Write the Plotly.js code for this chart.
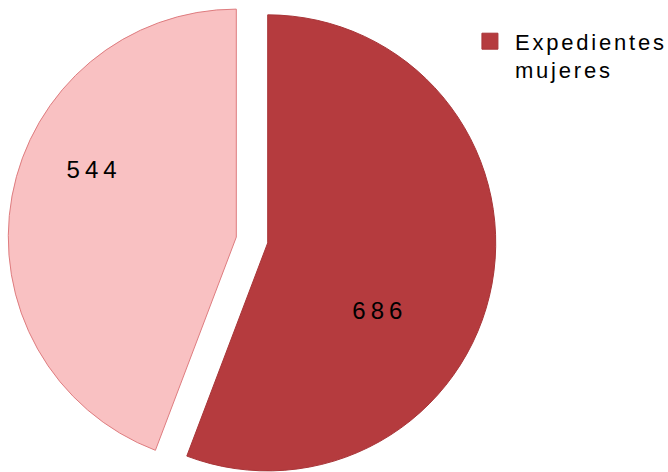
<!DOCTYPE html>
<html>
<head>
<meta charset="utf-8">
<script src="https://cdn.plot.ly/plotly-3.0.1.min.js"></script>
<style>
html, body { margin: 0; padding: 0; width: 668px; height: 472px; overflow: hidden; background: #fff; }
#chart { position: absolute; left: 0; top: -4px; width: 668px; height: 488px; }
.slicetext { letter-spacing: 5px; }
.spaced .legendtext { letter-spacing: 2.8px; }
</style>
</head>
<body>
<div id="chart"></div>
<script>
const labels = ["Expedientes mujeres", "Expedientes hombres"];
const values = [686, 544];
const sliceColors = ["#B53B3E", "#F9C1C2"];
const lineColors = ["#A83538", "#DE7C7F"];
const legendName = "Expedientes<br>mujeres";
const textTemplates = [
  "&nbsp;<br>&nbsp;<br>&nbsp;<br>%{value}",
  "%{value}&nbsp;&nbsp;&nbsp;&nbsp;&nbsp;<br>&nbsp;<br>&nbsp;<br>&nbsp;"
];

const data = [
  {
    type: "pie",
    labels: labels,
    values: values,
    sort: false,
    direction: "clockwise",
    rotation: 0,
    pull: [0.07, 0.07],
    texttemplate: textTemplates,
    textposition: "inside",
    insidetextorientation: "horizontal",
    textfont: { family: "Liberation Sans, Arial, sans-serif", size: 24, color: "#000000" },
    marker: { colors: sliceColors, line: { color: lineColors, width: 1 } },
    domain: { x: [0.012, 0.7425], y: [0, 1] },
    showlegend: false,
    hoverinfo: "label+value"
  },
  {
    type: "scatter",
    mode: "markers",
    x: [null],
    y: [null],
    name: legendName,
    marker: { symbol: "square", size: 16, color: sliceColors[0], line: { color: lineColors[0], width: 1 } },
    showlegend: true,
    hoverinfo: "skip"
  }
];

const layout = {
  width: 668,
  height: 488,
  margin: { l: 0, r: 0, t: 0, b: 0 },
  paper_bgcolor: "#ffffff",
  plot_bgcolor: "#ffffff",
  xaxis: { visible: false },
  yaxis: { visible: false },
  showlegend: true,
  legend: {
    x: 0.696,
    y: 0.95,
    xanchor: "left",
    yanchor: "top",
    valign: "top",
    itemwidth: 40,
    font: { family: "Liberation Sans, Arial, sans-serif", size: 22, color: "#000000" },
    bgcolor: "rgba(0,0,0,0)"
  }
};

Plotly.newPlot("chart", data, layout, { displayModeBar: false, staticPlot: true })
  .then(function () {
    document.body.classList.add("spaced");
    document.querySelectorAll(".legend [clip-path]").forEach(function (el) {
      el.removeAttribute("clip-path");
    });
  });
</script>
</body>
</html>
